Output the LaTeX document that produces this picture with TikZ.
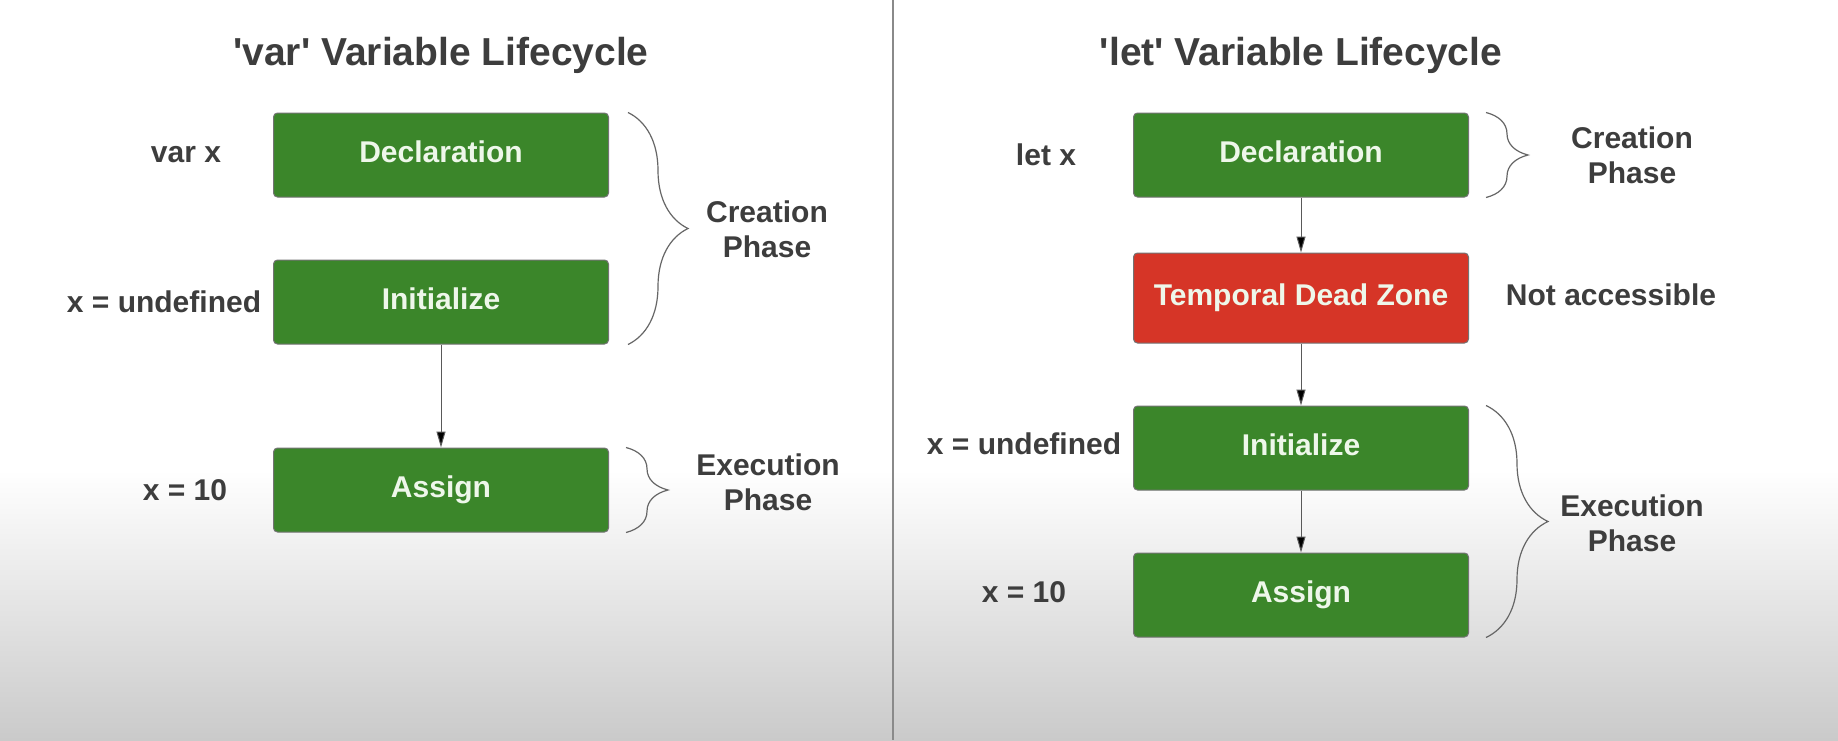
\documentclass[tikz,border=0pt]{standalone}
\usepackage{fontspec}
\setmainfont{Liberation Sans}
\usetikzlibrary{arrows.meta,decorations.pathreplacing,positioning}
\definecolor{boxgreen}{HTML}{3B862A}
\definecolor{boxred}{HTML}{D63527}
\definecolor{inktext}{HTML}{3D3D3D}
\definecolor{boxtext}{HTML}{EEF7EA}
\definecolor{divider}{HTML}{8A8A8A}
\definecolor{bottomgray}{HTML}{CACACA}

\begin{document}
\begin{tikzpicture}[x=0.5pt,y=-0.5pt,
  stage/.style={rectangle,rounded corners=2pt,draw=black!55,line width=0.5pt,
    minimum width=167.5pt,minimum height=42pt,text=boxtext,text height=11pt,text depth=4pt,
    font=\bfseries\fontsize{15}{18}\selectfont},
  green stage/.style={stage,fill=boxgreen},
  red stage/.style={stage,fill=boxred,minimum height=45pt},
  side label/.style={text=inktext,font=\bfseries\fontsize{15}{18}\selectfont},
  phase label/.style={text=inktext,align=center,font=\bfseries\fontsize{15}{17.5}\selectfont},
  title/.style={text=inktext,font=\bfseries\fontsize{19.5}{24}\selectfont},
  flow/.style={-{Triangle[length=8pt,width=4.5pt]},draw=black!65,line width=0.5pt},
  phase brace/.style={decorate,decoration={brace,amplitude=#1},draw=black!60,line width=0.6pt}]

  \useasboundingbox (0,0) rectangle (1838,740);
  \fill[white] (0,0) rectangle (1838,470);
  \shade[top color=white,bottom color=bottomgray] (0,470) rectangle (1838,740);
  \draw[divider,line width=1pt] (893,0) -- (893,740);

  % var side
  \node[title] (vtitle) at (441,55) {\textquotesingle var\textquotesingle{} Variable Lifecycle};
  \node[green stage] (vdecl) at (441,155) {Declaration};
  \node[green stage] (vinit) at (441,302) {Initialize};
  \node[green stage] (vassign) at (441,490) {Assign};

  \node[side label] (vdecllabel) at (186,155) {var x};
  \node[side label] (vinitlabel) at (164,302) {x = undefined};
  \node[side label] (vassignlabel) at (185,490) {x = 10};

  \draw[phase brace=30pt] ([xshift=9.5pt]vdecl.north east) -- ([xshift=9.5pt]vinit.south east);
  \draw[phase brace=21pt] ([xshift=8.5pt]vassign.north east) -- ([xshift=8.5pt]vassign.south east);
  \node[phase label] (vcreate) at (767,229) {Creation\\Phase};
  \node[phase label] (vexec) at (768,482) {Execution\\Phase};

  \path[flow] (vinit) edge (vassign);

  % let side
  \node[title] (ltitle) at (1301,55) {\textquotesingle let\textquotesingle{} Variable Lifecycle};
  \node[green stage] (ldecl) at (1301,155) {Declaration};
  \node[red stage] (ltdz) at (1301,298) {Temporal Dead Zone};
  \node[green stage] (linit) at (1301,448) {Initialize};
  \node[green stage] (lassign) at (1301,595) {Assign};

  \node[side label] (ldecllabel) at (1046,155) {let x};
  \node[side label] (ltdzlabel) at (1611,295) {Not accessible};
  \node[side label] (linitlabel) at (1024,444) {x = undefined};
  \node[side label] (lassignlabel) at (1024,592) {x = 10};

  \draw[phase brace=21pt] ([xshift=8.5pt]ldecl.north east) -- ([xshift=8.5pt]ldecl.south east);
  \draw[phase brace=31pt] ([xshift=8.5pt]linit.north east) -- ([xshift=8.5pt]lassign.south east);
  \node[phase label] (lcreate) at (1632,155) {Creation\\Phase};
  \node[phase label] (lexec) at (1632,523) {Execution\\Phase};

  \path[flow] (ldecl) edge (ltdz)
              (ltdz) edge (linit)
              (linit) edge (lassign);
\end{tikzpicture}
\end{document}
